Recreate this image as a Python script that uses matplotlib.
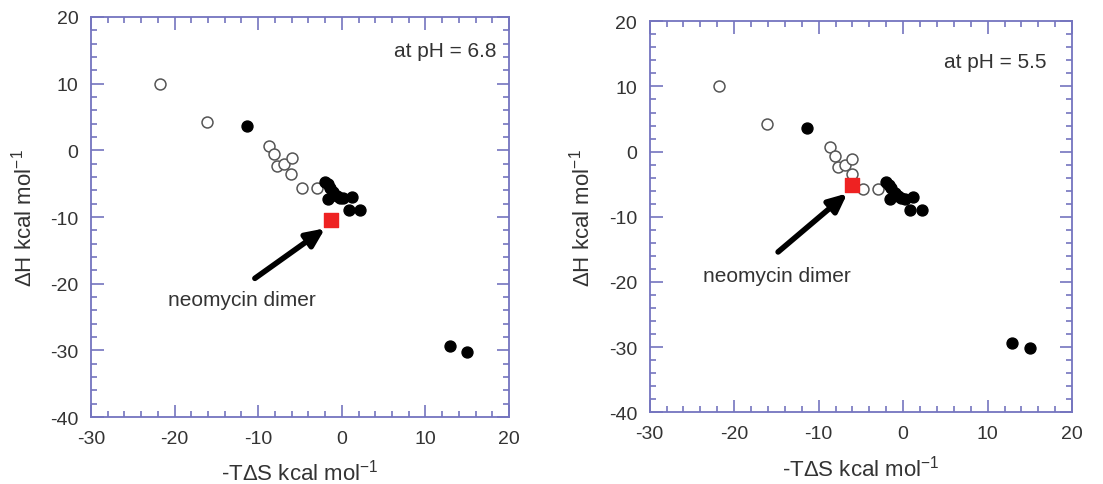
import matplotlib
matplotlib.use("Agg")
import matplotlib.pyplot as plt
from matplotlib.ticker import MultipleLocator

plt.rcParams['font.family'] = ['Liberation Sans', 'DejaVu Sans']
plt.rcParams['axes.unicode_minus'] = False
plt.rcParams['mathtext.fontset'] = 'custom'
plt.rcParams['mathtext.rm'] = 'Liberation Sans'
plt.rcParams['mathtext.it'] = 'Liberation Sans'

# open circles (-T dS, dH)
open_x = [-21.8, -16.1, -8.7, -8.1, -7.7, -6.9, -6.0, -6.1, -4.8, -3.0]
open_y = [10.0, 4.2, 0.7, -0.6, -2.3, -2.1, -1.1, -3.5, -5.7, -5.7]

# filled circles
fill_x = [-11.4, -2.0, -1.7, -1.4, -1.0, -0.6, -0.2, 0.2, -1.6, 1.2, 0.8, 2.2, 12.9, 15.0]
fill_y = [3.7, -4.7, -5.1, -5.6, -6.3, -6.8, -7.1, -7.2, -7.3, -7.0, -8.9, -8.9, -29.3, -30.2]

# neomycin dimer per pH
ph_labels = ["at pH = 6.8", "at pH = 5.5"]
dimer_x = [-1.3, -6.0]
dimer_y = [-10.4, -5.1]
arrow_tail = [(-10.4, -19.2), (-14.8, -15.4)]
arrow_head = [(-2.0, -11.7), (-6.6, -6.4)]
label_pos = [(-12.0, -22.3), (-15.0, -19.0)]
ph_pos = [(18.5, 15.0), (17.0, 13.9)]

spine_col = '#7474bf'
text_col = '#333333'

fig = plt.figure(figsize=(11.03, 4.85), dpi=100)
rects = [[0.0825, 0.138, 0.379, 0.825], [0.589, 0.148, 0.383, 0.806]]

for i in range(2):
    ax = fig.add_axes(rects[i])
    ax.scatter(open_x, open_y, s=62, facecolors='white', edgecolors='#555555', linewidths=1.1, zorder=3)
    ax.scatter(fill_x, fill_y, s=62, color='black', zorder=4)
    ax.scatter([dimer_x[i]], [dimer_y[i]], s=110, marker='s', color='#ee2222', zorder=5)
    ax.annotate('', xy=arrow_head[i], xytext=arrow_tail[i],
                arrowprops=dict(arrowstyle='-|>,head_length=1.1,head_width=0.5', color='black', lw=4,
                                shrinkA=0, shrinkB=0), zorder=6)
    ax.text(label_pos[i][0], label_pos[i][1], 'neomycin dimer', ha='center', va='center',
            fontsize=15, color=text_col)
    ax.text(ph_pos[i][0], ph_pos[i][1], ph_labels[i], ha='right', va='center',
            fontsize=15, color=text_col)

    ax.set_xlim(-30, 20)
    ax.set_ylim(-40, 20)
    ax.xaxis.set_major_locator(MultipleLocator(10))
    ax.xaxis.set_minor_locator(MultipleLocator(2))
    ax.yaxis.set_major_locator(MultipleLocator(10))
    ax.yaxis.set_minor_locator(MultipleLocator(2))
    ax.tick_params(which='both', direction='in', top=True, right=True, colors=spine_col,
                   labelcolor=text_col, labelsize=14, width=1.2)
    ax.tick_params(which='major', length=9, pad=9)
    ax.tick_params(which='minor', length=4)
    for s in ax.spines.values():
        s.set_color(spine_col)
        s.set_linewidth(1.3)
    ax.set_xlabel('-T\u0394S kcal mol$^{-1}$', fontsize=16, color=text_col, labelpad=9)
    ax.set_ylabel('\u0394H kcal mol$^{-1}$', fontsize=16, color=text_col, labelpad=10)

fig.savefig('out.png', dpi=100)
